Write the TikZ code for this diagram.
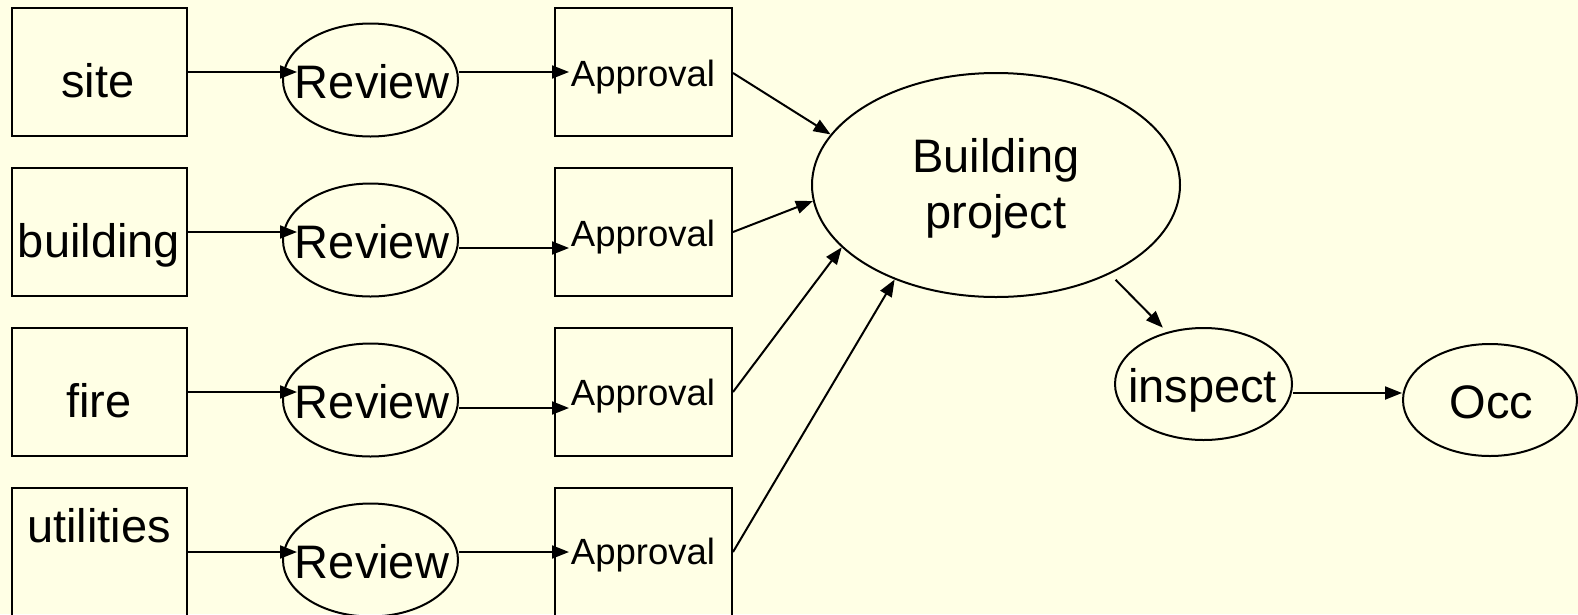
\documentclass[tikz,border=0pt]{standalone}
\usepackage{fontspec}
\setmainfont{Liberation Sans}
\usetikzlibrary{arrows.meta,shapes.geometric,calc}
\definecolor{bg}{RGB}{255,255,229}
\begin{document}
\begin{tikzpicture}[x=1pt,y=-1pt,
  box/.style={draw, line width=2pt, minimum width=175pt, minimum height=128pt, inner sep=0pt},
  abox/.style={draw, line width=2pt, minimum width=177pt, minimum height=128pt, inner sep=0pt},
  oval/.style={draw, ellipse, line width=2pt, minimum width=175pt, minimum height=113pt, inner sep=0pt},
  big/.style={font=\fontsize{47}{56}\selectfont, inner sep=0pt, anchor=base},
  small/.style={font=\fontsize{36.5}{44}\selectfont, inner sep=0pt, anchor=base},
  arr/.style={line width=2pt, -{Triangle[length=17pt,width=13pt]}}
]
\fill[bg] (0,0) rectangle (1578,614);
\useasboundingbox (0,0) rectangle (1578,614);

% left boxes
\node[box] (b1) at (99.5,72) {};
\node[box] (b2) at (99.5,232) {};
\node[box] (b3) at (99.5,392) {};
\node[box] (b4) at (99.5,552) {};
\node[big] (t1) at (98,97) {site};
\node[big] (t2) at (99,257) {building};
\node[big] (t3) at (99,417) {fire};
\node[big] (t4) at (99,542) {utilities};

% review ellipses
\node[oval] (r1) at (370.5,80) {};
\node[oval] (r2) at (370.5,240) {};
\node[oval] (r3) at (370.5,400) {};
\node[oval] (r4) at (370.5,560) {};
\node[big] (rt1) at (372,98) {Review};
\node[big] (rt2) at (372,258) {Review};
\node[big] (rt3) at (372,418) {Review};
\node[big] (rt4) at (372,578) {Review};

% approval boxes
\node[abox] (a1) at (643.5,72) {};
\node[abox] (a2) at (643.5,232) {};
\node[abox] (a3) at (643.5,392) {};
\node[abox] (a4) at (643.5,552) {};
\node[small] (at1) at (643,86) {Approval};
\node[small] (at2) at (643,246) {Approval};
\node[small] (at3) at (643,405) {Approval};
\node[small] (at4) at (643,564) {Approval};

% building project
\node[draw, ellipse, line width=2pt, minimum width=368pt, minimum height=224pt, inner sep=0pt] (bp) at (996,185) {};
\node[big] (bpt1) at (996,172) {Building};
\node[big] (bpt2) at (996,228) {project};

% inspect and Occ
\node[oval, minimum width=177pt, minimum height=112pt] (ins) at (1203.5,384) {};
\node[big] (inst) at (1202.5,402) {inspect};
\node[oval, minimum width=174pt, minimum height=112pt] (occ) at (1490,400) {};
\node[big] (occt) at (1491.5,418) {Occ};

% box -> review
\draw[arr] (b1.east) -- ($(r1.west |- b1.east)+(15,0)$);
\draw[arr] (b2.east) -- ($(r2.west |- b2.east)+(15,0)$);
\draw[arr] (b3.east) -- ($(r3.west |- b3.east)+(15,0)$);
\draw[arr] (b4.east) -- ($(r4.west |- b4.east)+(15,0)$);

% review -> approval
\draw[arr] ($(r1.east)+(-0.5,-8)$) -- ($(a1.west)+(15,0)$);
\draw[arr] ($(r2.east)+(-0.5,8)$) -- ($(a2.west)+(15,16)$);
\draw[arr] ($(r3.east)+(-0.5,8)$) -- ($(a3.west)+(15,16)$);
\draw[arr] ($(r4.east)+(-0.5,-8)$) -- ($(a4.west)+(15,0)$);

% approval -> building project
\draw[arr] ($(a1.east)+(0,1)$) -- (bp.163.5);
\draw[arr] (a2.east) -- (bp.-175.4);
\draw[arr] (a3.east) -- (bp.202.7);
\draw[arr] (a4.east) -- (bp.223);

% building project -> inspect -> Occ
\draw[arr, shorten <=8pt, shorten >=6pt] (bp.-38.6) -- (ins.125.4);
\draw[arr] ($(ins.east)+(-0.5,9)$) -- ($(occ.west)+(0,-7)$);
\end{tikzpicture}
\end{document}
